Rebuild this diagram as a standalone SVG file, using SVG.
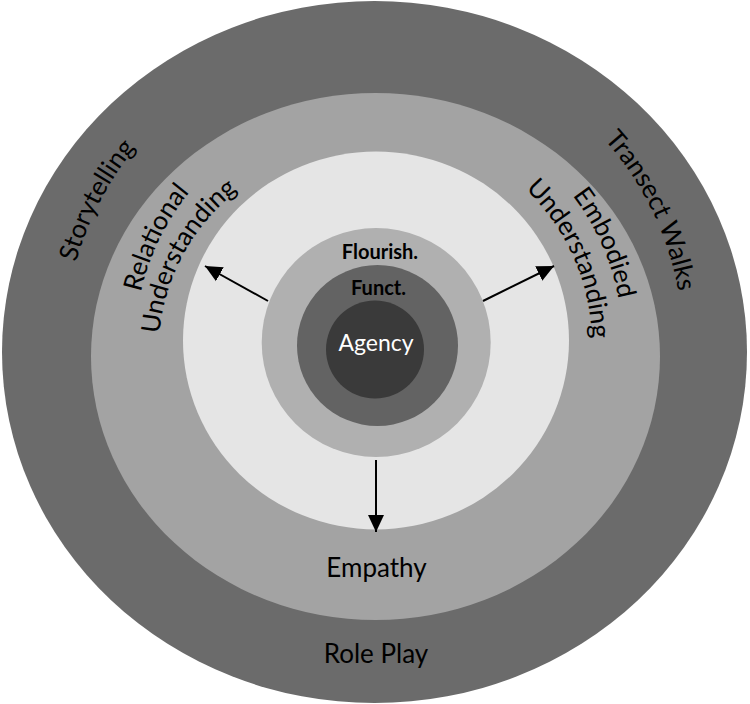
<svg xmlns="http://www.w3.org/2000/svg" width="750" height="704" viewBox="0 0 750 704">
<style>
.lbl{font-family:Lato,"Liberation Sans",sans-serif;font-size:26px;fill:#000}
.ctr{text-anchor:middle}
.b{font-weight:bold;font-size:20px}
.arr{stroke:#000;stroke-width:2;fill:none;marker-end:url(#ah)}
</style>
<defs>
<marker id="ah" markerUnits="userSpaceOnUse" markerWidth="18" markerHeight="18" viewBox="0 0 18 18" refX="17" refY="9" orient="auto">
<path d="M0,1 L17,9 L0,17 Z" fill="#000"/>
</marker>
<path id="pStory" d="M114.0,512.6 A311,311 0 0 1 361.9,34.3"/>
<path id="pTrans" d="M397.4,38.7 A307,307 0 0 1 630.5,516.7"/>
<path id="pRel" d="M176.2,479.8 A241,241 0 0 1 359.2,104.6"/>
<path id="pUndL" d="M188.6,458.9 A205,205 0 0 1 358.6,147.2"/>
<path id="pEmb" d="M401.8,99.4 A247,247 0 0 1 575.8,490.2"/>
<path id="pUndR" d="M398.6,130.2 A216,216 0 0 1 550.7,472.0"/>
</defs>
<g id="outer-ring">
<ellipse cx="374.5" cy="352" rx="372.5" ry="351" fill="#6b6b6b"/>
<text class="lbl"><textPath href="#pStory" startOffset="50%" text-anchor="middle">Storytelling</textPath></text>
<text class="lbl"><textPath href="#pTrans" startOffset="50%" text-anchor="middle">Transect Walks</textPath></text>
<text class="lbl ctr" x="376" y="663">Role Play</text>
</g>
<g id="mid-ring">
<ellipse cx="375.5" cy="356.5" rx="284.5" ry="263.5" fill="#a3a3a3"/>
<text class="lbl"><textPath href="#pRel" startOffset="50%" text-anchor="middle">Relational</textPath></text>
<text class="lbl"><textPath href="#pUndL" startOffset="50%" text-anchor="middle">Understanding</textPath></text>
<text class="lbl"><textPath href="#pEmb" startOffset="50%" text-anchor="middle">Embodied</textPath></text>
<text class="lbl"><textPath href="#pUndR" startOffset="50%" text-anchor="middle">Understanding</textPath></text>
<text class="lbl ctr" x="376.5" y="577">Empathy</text>
</g>
<g id="light-ring">
<ellipse cx="376" cy="340.5" rx="193" ry="189" fill="#e5e5e5"/>
</g>
<g id="flourish">
<circle cx="376.2" cy="342.5" r="114.5" fill="#b0b0b0"/>
<text class="lbl ctr b" x="380" y="259">Flourish.</text>
</g>
<g id="funct">
<circle cx="377.5" cy="345.5" r="80.5" fill="#636363"/>
<text class="lbl ctr b" x="378.5" y="295">Funct.</text>
</g>
<g id="agency">
<circle cx="375" cy="349.5" r="49" fill="#3a3a3a"/>
<text class="lbl ctr" x="376" y="351" style="font-size:23px;fill:#fff">Agency</text>
</g>
<g id="connectors">
<line class="arr" x1="268" y1="301" x2="205" y2="266"/>
<line class="arr" x1="483" y1="301" x2="554" y2="266"/>
<line class="arr" x1="376" y1="460" x2="376" y2="532"/>
</g>
</svg>
